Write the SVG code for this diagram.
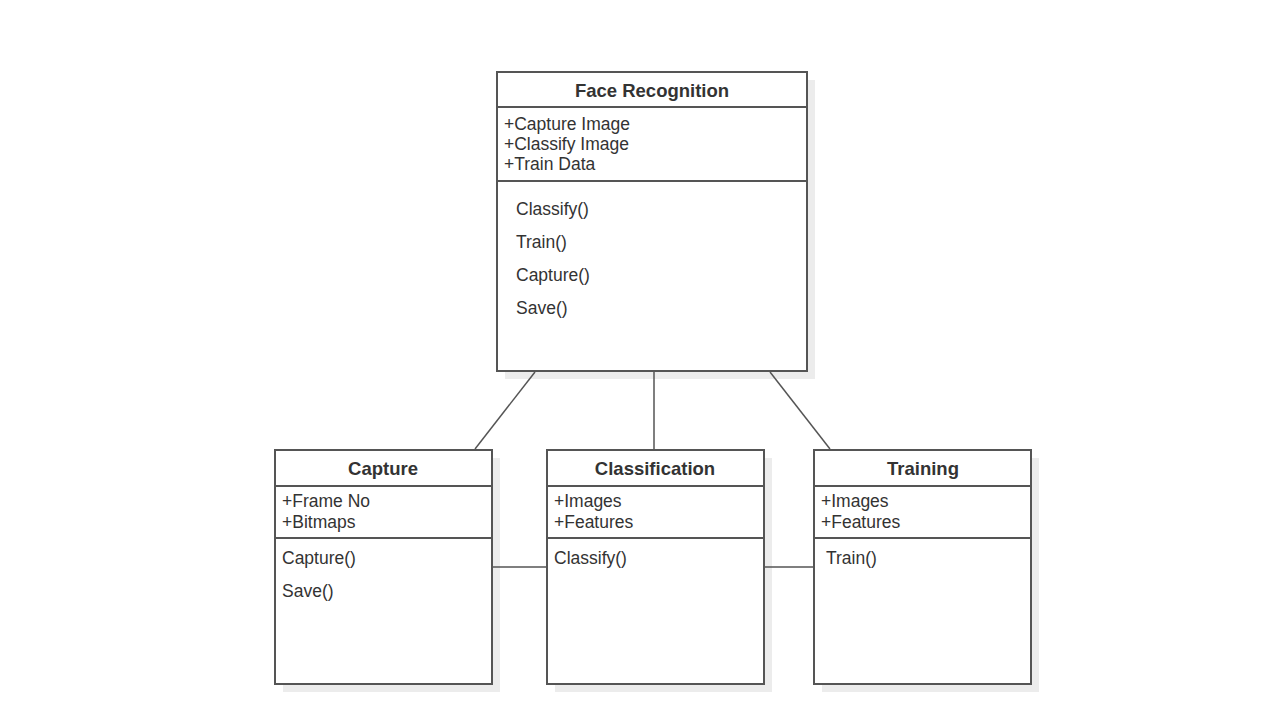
<svg xmlns="http://www.w3.org/2000/svg" width="1280" height="720" viewBox="0 0 1280 720">
  <defs>
    <style>
      .shadow { fill: #ececec; }
      .box { fill: #ffffff; stroke: #555555; stroke-width: 2; }
      .div { stroke: #555555; stroke-width: 2; }
      .conn { stroke: #555555; stroke-width: 1.5; fill: none; }
      .title { font-family: "Liberation Sans", Arial, sans-serif; font-size: 18.5px; font-weight: bold; fill: #333333; text-anchor: middle; }
      .item { font-family: "Liberation Sans", Arial, sans-serif; font-size: 17.5px; fill: #333333; }
    </style>
  </defs>
  <rect width="1280" height="720" fill="#ffffff"/>

  <!-- Face Recognition class -->
  <g id="face-recognition">
    <rect class="shadow" x="505" y="80" width="310" height="299"/>
    <rect class="box" x="497" y="72" width="310" height="299"/>
    <line class="div" x1="497" y1="107" x2="807" y2="107"/>
    <line class="div" x1="497" y1="181" x2="807" y2="181"/>
    <text class="title" x="652" y="97">Face Recognition</text>
    <text class="item" x="504" y="130">+Capture Image</text>
    <text class="item" x="504" y="150">+Classify Image</text>
    <text class="item" x="504" y="170">+Train Data</text>
    <text class="item" x="516" y="215">Classify()</text>
    <text class="item" x="516" y="248">Train()</text>
    <text class="item" x="516" y="281">Capture()</text>
    <text class="item" x="516" y="314">Save()</text>
  </g>

  <!-- Capture class -->
  <g id="capture">
    <rect class="shadow" x="283" y="458" width="217" height="234"/>
    <rect class="box" x="275" y="450" width="217" height="234"/>
    <line class="div" x1="275" y1="486" x2="492" y2="486"/>
    <line class="div" x1="275" y1="538" x2="492" y2="538"/>
    <text class="title" x="383" y="475">Capture</text>
    <text class="item" x="282" y="507">+Frame No</text>
    <text class="item" x="282" y="528">+Bitmaps</text>
    <text class="item" x="282" y="564">Capture()</text>
    <text class="item" x="282" y="597">Save()</text>
  </g>

  <!-- Classification class -->
  <g id="classification">
    <rect class="shadow" x="555" y="458" width="217" height="234"/>
    <rect class="box" x="547" y="450" width="217" height="234"/>
    <line class="div" x1="547" y1="486" x2="764" y2="486"/>
    <line class="div" x1="547" y1="538" x2="764" y2="538"/>
    <text class="title" x="655" y="475">Classification</text>
    <text class="item" x="554" y="507">+Images</text>
    <text class="item" x="554" y="528">+Features</text>
    <text class="item" x="554" y="564">Classify()</text>
  </g>

  <!-- Training class -->
  <g id="training">
    <rect class="shadow" x="822" y="458" width="217" height="234"/>
    <rect class="box" x="814" y="450" width="217" height="234"/>
    <line class="div" x1="814" y1="486" x2="1031" y2="486"/>
    <line class="div" x1="814" y1="538" x2="1031" y2="538"/>
    <text class="title" x="923" y="475">Training</text>
    <text class="item" x="821" y="507">+Images</text>
    <text class="item" x="821" y="528">+Features</text>
    <text class="item" x="826" y="564">Train()</text>
  </g>

  <!-- associations, drawn last so they sit over the drop shadows -->
  <g id="connectors">
    <line class="conn" x1="535" y1="372" x2="475" y2="449"/>
    <line class="conn" x1="654" y1="372" x2="654" y2="449"/>
    <line class="conn" x1="770" y1="372" x2="830" y2="449"/>
    <line class="conn" x1="493" y1="567" x2="546" y2="567"/>
    <line class="conn" x1="765" y1="567" x2="813" y2="567"/>
  </g>
</svg>
